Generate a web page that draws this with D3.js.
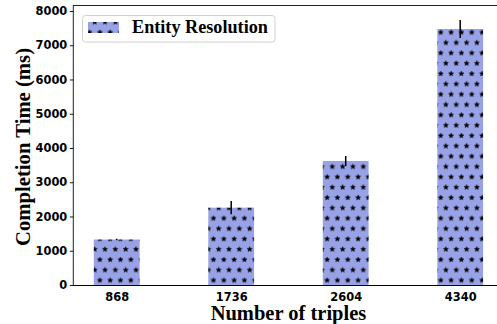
<!DOCTYPE html>
<html>
<head>
<meta charset="utf-8">
<script src="https://cdn.jsdelivr.net/npm/d3@7"></script>
<style>
  html, body { margin: 0; padding: 0; background: #fff; }
  svg { display: block; }
</style>
</head>
<body>
<svg id="chart" width="497" height="324"></svg>
<script>
// Completion time per dataset size
const categories = ["868", "1736", "2604", "4340"];
const completionMs = [1328, 2257, 3620, 7474];
const errorMs = [25, 195, 147, 263];
const yTicks = [0, 1000, 2000, 3000, 4000, 5000, 6000, 7000, 8000];
const seriesName = "Entity Resolution";

const W = 497, H = 324;
const plot = { left: 73.3, top: 5, bottom: 285, right: 503.6 };

const svg = d3.select("#chart");

// Star hatch pattern, tiled in page space so every bar shares one grid
const step = 10.33;
const defs = svg.append("defs");
const pat = defs.append("pattern")
  .attr("id", "stars")
  .attr("patternUnits", "userSpaceOnUse")
  .attr("x", 329.7).attr("y", 161.5)
  .attr("width", step).attr("height", step * 2);
pat.append("rect").attr("width", step).attr("height", step * 2).attr("fill", "#98a2e6");
function starPath(cx, cy, R, r) {
  const pts = [];
  for (let i = 0; i < 10; i++) {
    const a = -Math.PI / 2 + i * Math.PI / 5;
    const rad = i % 2 === 0 ? R : r;
    pts.push([cx + rad * Math.cos(a), cy + rad * Math.sin(a)]);
  }
  return "M" + pts.map(p => p.join(",")).join("L") + "Z";
}
const starCenters = [
  [step / 4, step / 2], [step * 3 / 4, step * 1.5],
  [step / 4 + step, step / 2], [step * 3 / 4 - step, step * 1.5]
];
starCenters.forEach(([cx, cy]) => {
  pat.append("path")
    .attr("d", starPath(cx, cy, 2.7, 1.2))
    .attr("fill", "#000").attr("stroke", "#000").attr("stroke-width", 0.4);
});

const x = d3.scaleLinear().domain([-0.379, 3.379]).range([plot.left, plot.right]);
const y = d3.scaleLinear().domain([0, 8175]).range([plot.bottom, plot.top]);
const barWidth = 0.4;

const clip = defs.append("clipPath").attr("id", "plotclip");
clip.append("rect").attr("x", plot.left).attr("y", plot.top)
  .attr("width", plot.right - plot.left).attr("height", plot.bottom - plot.top);

const gPlot = svg.append("g").attr("clip-path", "url(#plotclip)");

// Bars
gPlot.selectAll("rect.bar")
  .data(completionMs)
  .join("rect")
  .attr("class", "bar")
  .attr("x", (d, i) => x(i - barWidth / 2))
  .attr("width", (d, i) => x(i + barWidth / 2) - x(i - barWidth / 2))
  .attr("y", d => y(d))
  .attr("height", d => y(0) - y(d))
  .attr("fill", "url(#stars)");

// Error bars
gPlot.selectAll("line.err")
  .data(completionMs)
  .join("line")
  .attr("class", "err")
  .attr("x1", (d, i) => x(i)).attr("x2", (d, i) => x(i))
  .attr("y1", (d, i) => y(d - errorMs[i]))
  .attr("y2", (d, i) => y(d + errorMs[i]))
  .attr("stroke", "#000").attr("stroke-width", 1.5);

// Spines
svg.append("line").attr("x1", plot.left).attr("x2", W).attr("y1", plot.top + 0.5).attr("y2", plot.top + 0.5)
  .attr("stroke", "#222").attr("stroke-width", 1);
svg.append("line").attr("x1", plot.left).attr("x2", plot.left).attr("y1", plot.top).attr("y2", plot.bottom)
  .attr("stroke", "#222").attr("stroke-width", 1);
svg.append("line").attr("x1", plot.left - 0.5).attr("x2", W).attr("y1", plot.bottom + 0.5).attr("y2", plot.bottom + 0.5)
  .attr("stroke", "#000").attr("stroke-width", 1);

// Y axis
const yAxis = d3.axisLeft(y).tickValues(yTicks).tickSize(3.5).tickPadding(2.5).tickFormat(d3.format("d"));
const gy = svg.append("g").attr("transform", `translate(${plot.left},0)`).call(yAxis);
gy.select(".domain").remove();
gy.selectAll(".tick line").attr("stroke", "#000").attr("stroke-width", 0.9);
gy.selectAll(".tick text")
  .attr("font-family", "DejaVu Sans").attr("font-weight", "bold").attr("font-size", 11.4).attr("fill", "#000");

// X axis
const xAxis = d3.axisBottom(x).tickValues(d3.range(categories.length)).tickSize(0).tickPadding(7.5)
  .tickFormat(i => categories[i]);
const gx = svg.append("g").attr("transform", `translate(0,${plot.bottom})`).call(xAxis);
gx.select(".domain").remove();
gx.selectAll(".tick text")
  .attr("font-family", "DejaVu Sans").attr("font-weight", "bold").attr("font-size", 11.4).attr("fill", "#000");

// Axis titles
svg.append("text")
  .attr("x", (plot.left + plot.right) / 2).attr("y", 319.5)
  .attr("text-anchor", "middle")
  .attr("font-family", "Liberation Serif").attr("font-weight", "bold").attr("font-size", 20.5)
  .attr("fill", "#000").text("Number of triples");
svg.append("text")
  .attr("transform", `translate(30,${(plot.top + plot.bottom) / 2 + 2}) rotate(-90)`)
  .attr("text-anchor", "middle")
  .attr("font-family", "Liberation Serif").attr("font-weight", "bold").attr("font-size", 20.7)
  .attr("fill", "#000").text("Completion Time (ms)");

// Legend
const lg = svg.append("g");
lg.append("rect").attr("x", 82.5).attr("y", 15.5).attr("width", 192.5).attr("height", 26.5)
  .attr("rx", 3).attr("fill", "#fff").attr("fill-opacity", 0.8).attr("stroke", "#d0d0d0").attr("stroke-width", 1);
lg.append("rect").attr("x", 88).attr("y", 22).attr("width", 31).attr("height", 11)
  .attr("fill", "url(#stars)");
lg.append("text").attr("x", 132).attr("y", 33.3)
  .attr("font-family", "Liberation Serif").attr("font-weight", "bold").attr("font-size", 18.2)
  .attr("fill", "#000").text(seriesName);
</script>
</body>
</html>
